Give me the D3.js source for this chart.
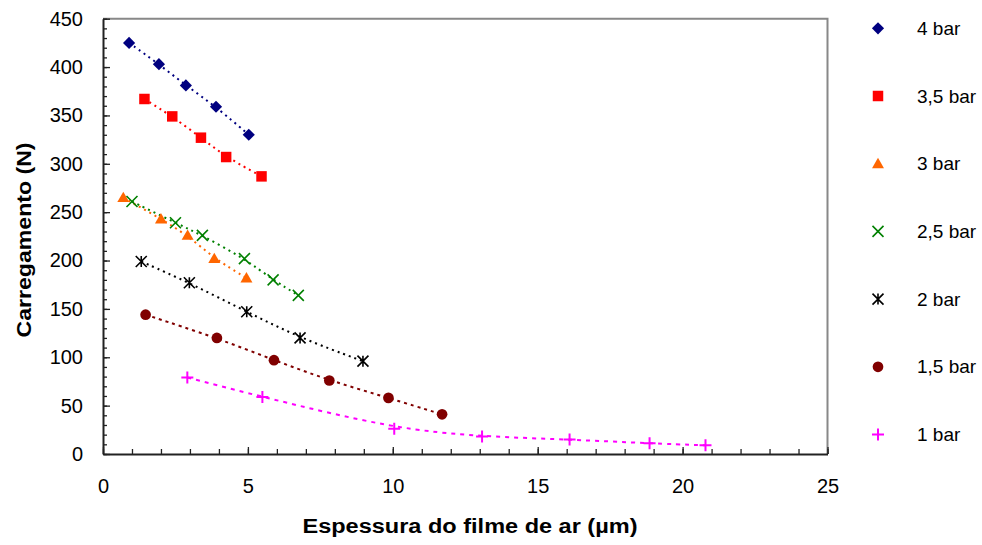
<!DOCTYPE html>
<html>
<head>
<meta charset="utf-8">
<script src="https://cdn.jsdelivr.net/npm/d3@7"></script>
<style>
	body { margin:0; background:#fff; }
	svg { display:block; font-family:Arial, "Liberation Sans", sans-serif; }
</style>
</head>
<body>
<svg id="chart" width="982" height="545"></svg>
<script>
// series names (legend order) and values [espessura (µm), carregamento (N)]
var seriesNames = ['4 bar', '3,5 bar', '3 bar', '2,5 bar', '2 bar', '1,5 bar', '1 bar'];
var bar4  = [[0.9,425],[1.93,403],[2.86,381],[3.9,359],[5.03,330]];
var bar35 = [[1.43,367],[2.39,349],[3.38,327],[4.25,307],[5.47,287]];
var bar3  = [[0.7,265],[2.0,243],[2.92,226],[3.84,202],[4.95,182]];
var bar25 = [[1.0,261],[2.5,239],[3.43,226],[4.88,202],[5.87,180],[6.74,164]];
var bar2  = [[1.32,199],[2.98,177],[4.96,147],[6.8,120],[8.97,96]];
var bar15 = [[1.47,144],[3.93,120],[5.9,97],[7.81,76],[9.85,58],[11.7,41]];
var bar1  = [[2.91,79],[5.5,59],[10.05,26],[13.08,18],[16.1,15],[18.86,11],[20.79,9]];
var xTicks = [0, 5, 10, 15, 20, 25];
var yTicks = [0, 50, 100, 150, 200, 250, 300, 350, 400, 450];

var seriesData = [bar4, bar35, bar3, bar25, bar2, bar15, bar1];
var colors = ['#000080', '#ff0000', '#ff6600', '#008000', '#000000', '#800000', '#ff00ff'];
var markers = ['diamond', 'square', 'triangle', 'x', 'star', 'circle', 'plus'];
var dashes = ['2,4', '2,4', '2,4', '2,4', '2,4', '3,4', '4,5'];

var svg = d3.select('#chart');
var plotLeft = 103, plotRight = 827.5, plotTop = 18.7, plotBottom = 454;

var x = d3.scaleLinear().domain([0, 25]).range([plotLeft, plotRight]);
var y = d3.scaleLinear().domain([0, 450]).range([plotBottom, plotTop]);

// plot frame (top/right in grey)
svg.append('path')
	.attr('d', 'M' + plotLeft + ',' + plotTop + 'H' + plotRight + 'V' + plotBottom)
	.attr('fill', 'none').attr('stroke', '#888').attr('stroke-width', 2);

// minor ticks
svg.append('g').attr('transform', 'translate(0,' + plotBottom + ')')
	.call(d3.axisBottom(x).tickValues(d3.range(0, 26, 1)).tickSize(-5).tickFormat(''))
	.call(function(g){ g.select('.domain').remove(); g.selectAll('line').attr('stroke', '#222').attr('stroke-width', 1.3); });
svg.append('g').attr('transform', 'translate(' + plotLeft + ',0)')
	.call(d3.axisLeft(y).tickValues(d3.range(0, 451, 10)).tickSize(-4).tickFormat(''))
	.call(function(g){ g.select('.domain').remove(); g.selectAll('line').attr('stroke', '#222').attr('stroke-width', 1.3); });

// major axes
var xAxis = svg.append('g').attr('transform', 'translate(0,' + plotBottom + ')')
	.call(d3.axisBottom(x).tickValues(xTicks).tickSize(-7).tickSizeOuter(0).tickPadding(25));
var yAxis = svg.append('g').attr('transform', 'translate(' + plotLeft + ',0)')
	.call(d3.axisLeft(y).tickValues(yTicks).tickSize(-7).tickSizeOuter(0).tickPadding(20));
[xAxis, yAxis].forEach(function(g) {
	g.select('.domain').attr('stroke', '#222').attr('stroke-width', 2);
	g.selectAll('line').attr('stroke', '#222').attr('stroke-width', 1.3);
	g.selectAll('text').attr('fill', '#000').style('font-size', '20px')
		.style('font-family', 'Arial, "Liberation Sans", sans-serif');
});

// axis titles
svg.append('text')
	.attr('x', 470).attr('y', 533)
	.attr('text-anchor', 'middle')
	.attr('textLength', 335).attr('lengthAdjust', 'spacingAndGlyphs')
	.style('font-size', '20px').style('font-weight', 'bold')
	.text('Espessura do filme de ar (µm)');
svg.append('text')
	.attr('transform', 'translate(31,240) rotate(-90)')
	.attr('text-anchor', 'middle')
	.attr('textLength', 195).attr('lengthAdjust', 'spacingAndGlyphs')
	.style('font-size', '20px').style('font-weight', 'bold')
	.text('Carregamento (N)');

// markers
function drawMarker(g, type, color) {
	if (type === 'diamond') {
		g.append('path').attr('d', d3.symbol(d3.symbolSquare, 74)()).attr('transform', 'rotate(45)').attr('fill', color);
	} else if (type === 'square') {
		g.append('path').attr('d', d3.symbol(d3.symbolSquare, 110)()).attr('fill', color);
	} else if (type === 'triangle') {
		g.append('path').attr('d', d3.symbol(d3.symbolTriangle, 62)()).attr('transform', 'translate(0,1)').attr('fill', color);
	} else if (type === 'circle') {
		g.append('path').attr('d', d3.symbol(d3.symbolCircle, 90)()).attr('fill', color);
	} else {
		var s = type === 'plus' ? 6 : 5.5, path = '';
		if (type === 'x' || type === 'star') path += 'M' + -s + ',' + -s + 'L' + s + ',' + s + 'M' + -s + ',' + s + 'L' + s + ',' + -s;
		if (type === 'star') path += 'M0,' + -s + 'V' + s;
		if (type === 'plus') path += 'M' + -s + ',0H' + s + 'M0,' + -s + 'V' + s;
		g.append('path').attr('d', path).attr('fill', 'none').attr('stroke', color).attr('stroke-width', type === 'plus' ? 2 : 1.6);
	}
}

var line = d3.line().x(function(d){ return x(d[0]); }).y(function(d){ return y(d[1]); }).curve(d3.curveBasis);

var plot = svg.append('g');
seriesData.forEach(function(data, i) {
	plot.append('path').datum(data)
		.attr('d', line)
		.attr('fill', 'none')
		.attr('stroke', colors[i])
		.attr('stroke-width', 2)
		.attr('stroke-dasharray', dashes[i]);
});
seriesData.forEach(function(data, i) {
	plot.selectAll(null).data(data).enter().append('g')
		.attr('transform', function(d){ return 'translate(' + x(d[0]) + ',' + y(d[1]) + ')'; })
		.each(function(){ drawMarker(d3.select(this), markers[i], colors[i]); });
});

// legend
var legend = svg.append('g');
seriesNames.forEach(function(name, i) {
	var ly = 28.3 + i * 67.7;
	var g = legend.append('g').attr('transform', 'translate(878,' + ly + ')');
	drawMarker(g, markers[i], colors[i]);
	legend.append('text')
		.attr('x', 917).attr('y', ly + 6.5)
		.style('font-size', '19px')
		.text(name);
});
</script>
</body>
</html>
